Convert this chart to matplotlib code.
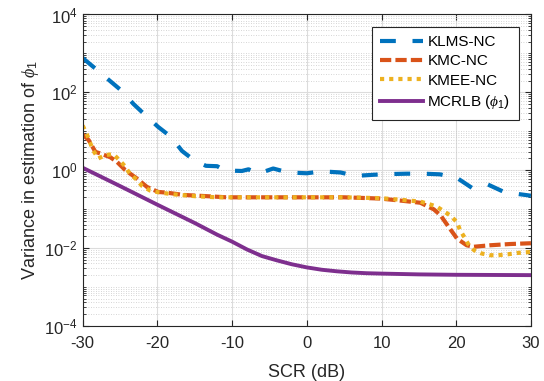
import numpy as np
import matplotlib
matplotlib.use("Agg")
import matplotlib.pyplot as plt
from matplotlib.ticker import LogLocator, LogFormatterSciNotation, NullFormatter, MultipleLocator

plt.rcParams['font.family'] = ['Liberation Sans', 'DejaVu Sans']
plt.rcParams['mathtext.fontset'] = 'custom'
plt.rcParams['mathtext.it'] = 'Liberation Serif:italic'
plt.rcParams['mathtext.rm'] = 'Liberation Sans'
plt.rcParams['axes.unicode_minus'] = False

# SCR (dB) / variance values
klms_x = [-30, -28.3, -26.4, -24.8, -23.2, -21.6, -19.9, -18.2, -16.7, -15.0, -13.5, -12.0,
          -11.0, -8.7, -7.8, -6.5, -4.5, -2.5, 0, 2, 4.5, 6.5, 9, 11, 13.4, 15.6, 17.8,
          20.1, 22.1, 24.2, 26.3, 28.5, 30]
klms_y = [760, 407, 200, 110, 50, 25.7, 12.9, 7.2, 3.1, 1.74, 1.29, 1.26,
          0.98, 0.95, 1.05, 0.81, 1.10, 0.87, 0.83, 0.93, 0.87, 0.71, 0.76, 0.79, 0.81, 0.81, 0.78,
          0.63, 0.35, 0.43, 0.28, 0.24, 0.22]

kmc_x = [-30, -29.2, -28.3, -27.7, -26.3, -25.4, -24.3, -22.8, -21.4, -19.9, -18.7, -16.5,
         -13.4, -10.7, -5, 0, 5, 9.8, 12.9, 15.2, 17.0, 17.9, 18.8, 20.1, 21.4, 22.3,
         24.5, 27.2, 30]
kmc_y = [8.3, 5.9, 2.95, 2.7, 2.14, 1.62, 1.0, 0.62, 0.37, 0.275, 0.263, 0.23,
         0.214, 0.20, 0.20, 0.20, 0.20, 0.186, 0.162, 0.145, 0.098, 0.069, 0.039, 0.0174, 0.0117, 0.0107,
         0.0117, 0.0126, 0.0132]

kmee_x = [-30, -29.4, -28.6, -27.9, -26.9, -25.9, -25.1, -24.3, -23.7, -22.8, -22.1, -21,
          -19.9, -18, -15, -12, -5, 0, 5, 10, 13, 15.2, 16.3, 17.4, 18.3, 19.2, 20.1, 20.5,
          21.2, 21.6, 22.4, 23.4, 24.5, 25.6, 27.0, 28.1, 30]
kmee_y = [14, 7.9, 3.2, 2.0, 2.45, 2.57, 1.82, 1.23, 0.81, 0.575, 0.40, 0.30,
          0.27, 0.24, 0.214, 0.20, 0.20, 0.20, 0.20, 0.19, 0.17, 0.155, 0.135, 0.115, 0.089, 0.068, 0.046, 0.029,
          0.0174, 0.0126, 0.0087, 0.0072, 0.0065, 0.0065, 0.0069, 0.0074, 0.0079]

crlb_x = [-30, -25, -20, -15, -12, -10, -8, -6, -4, -2, 0, 2, 4, 6, 8, 10, 15, 20, 30]
crlb_y = [1.15, 0.389, 0.129, 0.0437, 0.0219, 0.0145, 0.00912, 0.00617, 0.00479, 0.0038,
          0.00316, 0.00275, 0.00251, 0.00234, 0.00224, 0.00219, 0.00209, 0.00204, 0.0020]

fig = plt.figure(figsize=(5.44, 3.81), dpi=100)
ax = fig.add_axes([0.152, 0.145, 0.824, 0.817])

ax.plot(klms_x, klms_y, color='#0072BD', lw=3, dashes=(3.8, 4.0), label='KLMS-NC')
ax.plot(kmc_x, kmc_y, color='#D95319', lw=3, dashes=(2.7, 1.0), label='KMC-NC')
ax.plot(kmee_x, kmee_y, color='#EDB120', lw=3, dashes=(1.0, 1.2), label='KMEE-NC')
ax.plot(crlb_x, crlb_y, color='#7E2F8E', lw=2.8, label=r'MCRLB ($\phi_1$)')

ax.set_yscale('log')
ax.set_xlim(-30, 30)
ax.set_ylim(1e-4, 1e4)
ax.xaxis.set_major_locator(MultipleLocator(10))
ax.yaxis.set_major_locator(LogLocator(base=100))
ax.yaxis.set_major_formatter(LogFormatterSciNotation(base=10))
ax.yaxis.set_minor_locator(LogLocator(base=10, subs=np.arange(1, 10), numticks=50))
ax.yaxis.set_minor_formatter(NullFormatter())

ax.grid(True, which='major', color='#dcdcdc', lw=0.8, ls='-')
ax.grid(True, which='minor', axis='y', color='#c8c8c8', lw=0.6, ls=(0, (1, 2)))
ax.set_axisbelow(True)

ax.tick_params(which='both', direction='in', top=True, right=True, labelsize=12,
               colors='#262626')
ax.tick_params(which='major', length=4)
ax.tick_params(which='minor', length=2)
ax.tick_params(axis='x', pad=7.5)
for s in ax.spines.values():
    s.set_color('#262626')
    s.set_linewidth(0.8)

ax.set_xlabel('SCR (dB)', fontsize=13, color='#262626', labelpad=9)
ax.set_ylabel(r'Variance in estimation of $\phi_1$', fontsize=13, color='#262626', labelpad=2)

leg = ax.legend(loc='upper right', fontsize=11, handlelength=2.8, fancybox=False,
                framealpha=1, edgecolor='#262626', borderaxespad=0.8, labelspacing=0.35,
                handletextpad=0.3, borderpad=0.55)
leg.get_frame().set_linewidth(0.8)

fig.savefig('out.png', dpi=100)
